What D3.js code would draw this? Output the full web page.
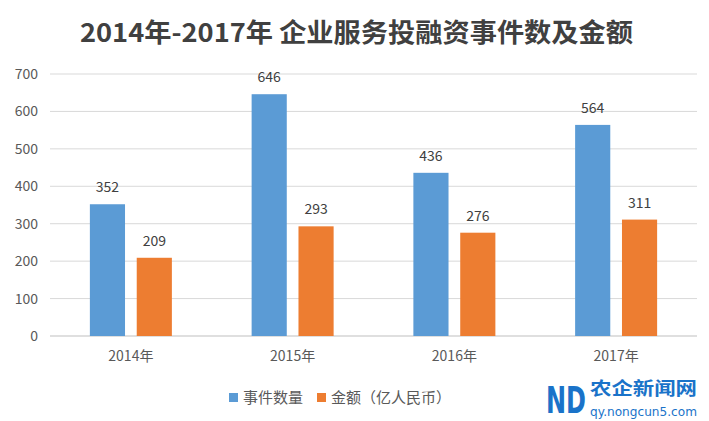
<!DOCTYPE html>
<html><head><meta charset="utf-8">
<script src="https://cdn.jsdelivr.net/npm/d3@7"></script>
<style>body{margin:0;background:#fff}svg{display:block}</style>
</head><body>
<svg id="c" width="709" height="421"></svg>
<script>
const categories = ["2014年","2015年","2016年","2017年"];
const seriesNames = ["事件数量","金额（亿人民币）"];
const eventCounts = [352,646,436,564];
const amounts = [209,293,276,311];
const yTicks = [0,100,200,300,400,500,600,700];
const colors = ["#5B9BD5","#ED7D31"];

(function(){
const svg = d3.select("#c");
const font = "'Noto Sans CJK SC','Noto Sans',sans-serif";
const pl = 50, pr = 697, pt = 74, pb = 336;

const x = d3.scaleBand().domain(categories).range([pl,pr]);
const x1 = d3.scaleBand().domain([0,1]).range([0,82]).paddingInner(0.25);
const y = d3.scaleLinear().domain([0,700]).range([pb,pt]);

svg.append("text").attr("x",80).attr("y",42)
  .attr("font-family",font).attr("font-weight","bold").attr("font-size",26)
  .attr("textLength",553).attr("lengthAdjust","spacingAndGlyphs")
  .attr("fill","#404040").text("2014年-2017年 企业服务投融资事件数及金额");

svg.append("g").selectAll("line").data(yTicks).join("line")
  .attr("x1",pl).attr("x2",pr).attr("y1",d=>y(d)).attr("y2",d=>y(d))
  .attr("stroke",d=>d===0?"#bfbfbf":"#d9d9d9").attr("stroke-width",1);

const yAxis = d3.axisLeft(y).tickValues(yTicks).tickSize(0).tickPadding(0);
const gy = svg.append("g").attr("transform",`translate(${pl-12},0)`).call(yAxis);
gy.select(".domain").remove();
gy.selectAll("text").attr("font-family",font).attr("font-size",14).attr("fill","#595959");

const xAxis = d3.axisBottom(x).tickSize(0).tickPadding(0);
const gx = svg.append("g").attr("transform",`translate(0,${pb+12})`).call(xAxis);
gx.select(".domain").remove();
gx.selectAll("text").attr("font-family",font).attr("font-size",14).attr("fill","#595959").attr("dy","0.9em");

const data = categories.map((c,i)=>({c, vals:[eventCounts[i],amounts[i]]}));
const groups = svg.append("g").selectAll("g").data(data).join("g")
  .attr("transform",d=>`translate(${x(d.c)+x.bandwidth()/2-41},0)`);
groups.selectAll("rect").data(d=>d.vals.map((v,k)=>({v,k}))).join("rect")
  .attr("x",d=>x1(d.k)).attr("width",x1.bandwidth())
  .attr("y",d=>y(d.v)).attr("height",d=>pb-y(d.v))
  .attr("fill",d=>colors[d.k]);
groups.selectAll("text").data(d=>d.vals.map((v,k)=>({v,k}))).join("text")
  .attr("x",d=>x1(d.k)+x1.bandwidth()/2).attr("y",d=>y(d.v)-12)
  .attr("text-anchor","middle").attr("font-family",font).attr("font-size",14)
  .attr("fill","#404040").text(d=>d.v);

const leg = svg.append("g");
const legX = [229, 317];
seriesNames.forEach((n,k)=>{
  leg.append("rect").attr("x",legX[k]).attr("y",393).attr("width",9).attr("height",9).attr("fill",colors[k]);
  leg.append("text").attr("x",legX[k]+14).attr("y",403).attr("font-family",font).attr("font-size",15)
    .attr("fill","#595959").text(n);
});

const wm = svg.append("g");
wm.append("text").attr("transform","translate(546,413) scale(1,1.55)").attr("font-family","'DejaVu Sans',sans-serif")
  .attr("font-weight","bold").attr("font-size",24).attr("fill","#1a73c9").text("ND");
wm.append("text").attr("x",590).attr("y",395).attr("font-family",font).attr("font-weight","bold")
  .attr("font-size",18).attr("fill","#1a73c9").attr("textLength",107).attr("lengthAdjust","spacingAndGlyphs").text("农企新闻网");
wm.append("text").attr("x",590).attr("y",416).attr("font-family","'DejaVu Sans',sans-serif")
  .attr("font-size",12).attr("fill","#1a73c9").attr("textLength",107).attr("lengthAdjust","spacingAndGlyphs").text("qy.nongcun5.com");
})();
</script>
</body></html>
